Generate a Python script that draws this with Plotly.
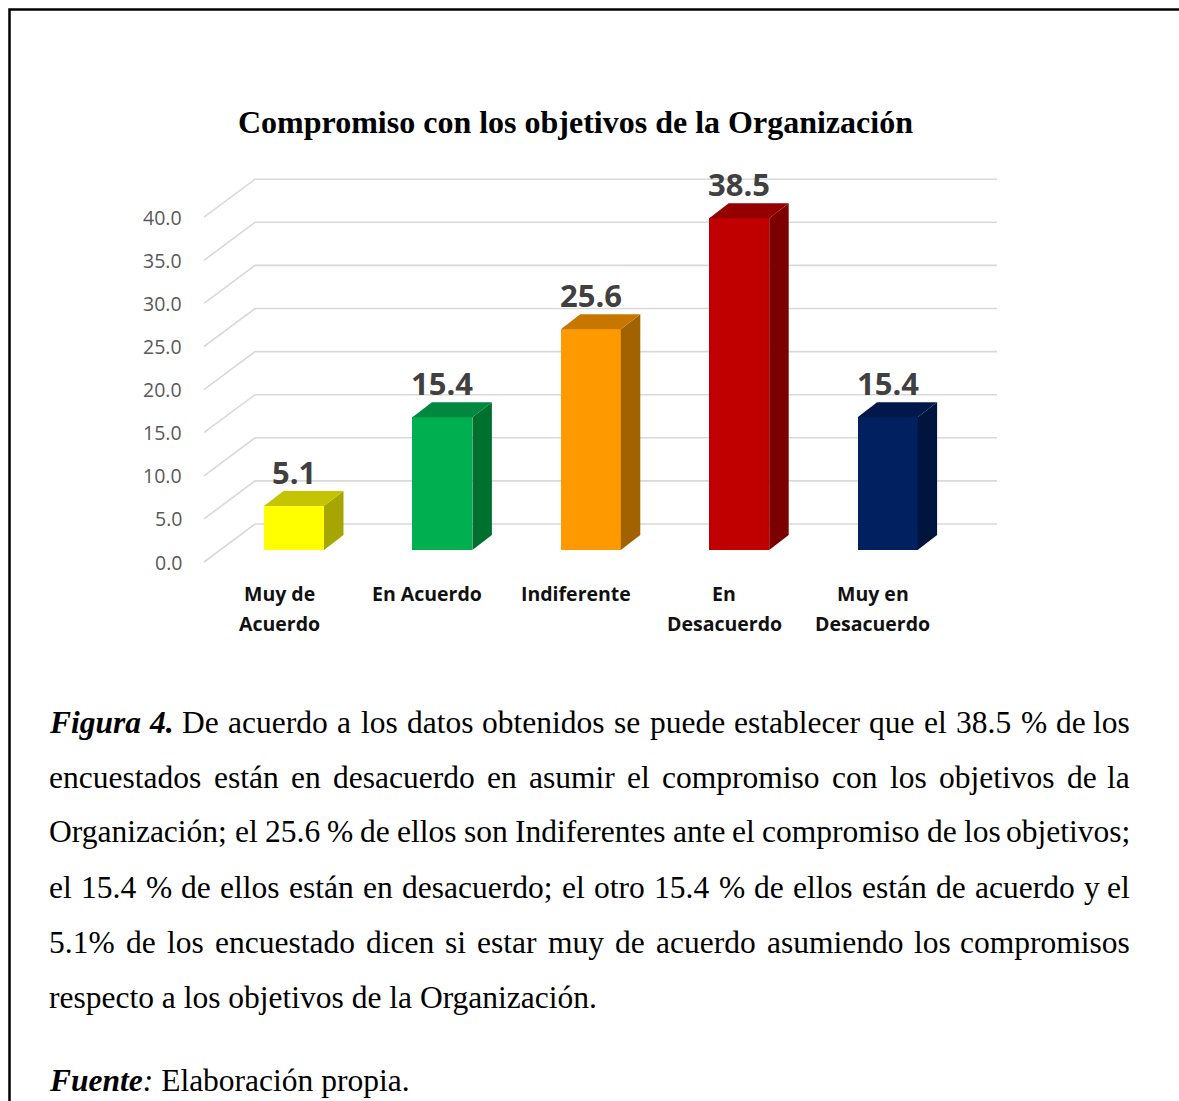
import plotly.graph_objects as go

# ---------------- data ----------------
categories = ["Muy de Acuerdo", "En Acuerdo", "Indiferente", "En Desacuerdo", "Muy en Desacuerdo"]
category_lines = [["Muy de", "Acuerdo"], ["En Acuerdo"], ["Indiferente"], ["En", "Desacuerdo"], ["Muy en", "Desacuerdo"]]
values = [5.1, 15.4, 25.6, 38.5, 15.4]
y_ticks = [0, 5, 10, 15, 20, 25, 30, 35, 40]
title_text = "Compromiso con los objetivos de la Organización"

# ---------------- style ----------------
front_colors = ["#FFFF00", "#00B050", "#FF9900", "#C00000", "#002060"]
top_colors = ["#C4C400", "#00883E", "#C77700", "#940000", "#00194A"]
side_colors = ["#A6A600", "#00702F", "#A36200", "#7D0000", "#00153E"]

W, H = 1179, 1101
CAT_PX = 148.4      # px between categories
X0_PX = 294         # px of first category centre (front face)
BASE_PX = 550       # px of value 0 on the bars' front plane
UNIT_PX = 8.62      # px per value unit


def xd(px):
    return (px - X0_PX) / CAT_PX


def up(px):
    return px / UNIT_PX


BAR_W = 60 / CAT_PX
DX = 19.5 / CAT_PX
DY = up(15)

fig = go.Figure()

# back-wall gridlines with floor diagonal (as shapes below the traces)
shapes = []
for v in y_ticks:
    p = (f"M {xd(204)},{v - up(12)} L {xd(255)},{v + up(26)} L {xd(997)},{v + up(26)}")
    shapes.append(dict(type="path", xref="x", yref="y", path=p, layer="below",
                       line=dict(color="#D9D9D9", width=1.6)))

# front faces
fig.add_trace(go.Bar(x=list(range(len(values))), y=values, width=BAR_W,
                     marker=dict(color=front_colors, line=dict(width=0)),
                     hoverinfo="skip", showlegend=False))

# side and top faces
for i, v in enumerate(values):
    xl, xr = i - BAR_W / 2, i + BAR_W / 2
    fig.add_trace(go.Scatter(x=[xr, xr + DX, xr + DX, xr, xr], y=[0, DY, v + DY, v, 0],
                             mode="lines", fill="toself", fillcolor=side_colors[i],
                             line=dict(width=0), hoverinfo="skip", showlegend=False))
    fig.add_trace(go.Scatter(x=[xl, xl + DX, xr + DX, xr, xl], y=[v, v + DY, v + DY, v, v],
                             mode="lines", fill="toself", fillcolor=top_colors[i],
                             line=dict(width=0), hoverinfo="skip", showlegend=False))

annotations = []
# data labels
for i, v in enumerate(values):
    annotations.append(dict(x=i, y=v + DY, xref="x", yref="y", text=f"{v:.1f}", showarrow=False,
                            xanchor="center", yanchor="bottom", yshift=-4,
                            font=dict(family="Open Sans", size=31, color="#404040", weight=700)))
# tick labels
for v in y_ticks:
    annotations.append(dict(x=xd(184), y=v - up(12), xref="x", yref="y", text=f"{v:.1f}", showarrow=False,
                            xanchor="right", yanchor="middle",
                            font=dict(family="Open Sans", size=19.5, color="#595959")))
# category labels
for i, lines in enumerate(category_lines):
    for k, ln in enumerate(lines):
        annotations.append(dict(x=i - 15 / CAT_PX, y=1 - (593 + 30 * k) / H, xref="x", yref="paper",
                                text=ln, showarrow=False, xanchor="center", yanchor="middle",
                                font=dict(family="Open Sans", size=19.5, color="#111111", weight=700)))

# title
annotations.append(dict(x=575 / W, y=1 - 122 / H, xref="paper", yref="paper", text=f"<b>{title_text}</b>",
                        showarrow=False, xanchor="center", yanchor="middle",
                        font=dict(family="Liberation Serif", size=32, color="#000000")))

# ---------------- caption (justified) ----------------
TR = {' ': 250, '.': 250, ',': 250, ';': 278, ':': 278, '%': 833,
      'a': 444, 'b': 500, 'c': 444, 'd': 500, 'e': 444, 'f': 333, 'g': 500, 'h': 500, 'i': 278, 'j': 278,
      'k': 500, 'l': 278, 'm': 778, 'n': 500, 'o': 500, 'p': 500, 'q': 500, 'r': 333, 's': 389, 't': 278,
      'u': 500, 'v': 500, 'w': 722, 'x': 500, 'y': 500, 'z': 444,
      'A': 722, 'B': 667, 'C': 667, 'D': 722, 'E': 611, 'F': 556, 'G': 722, 'H': 722, 'I': 333, 'J': 389,
      'K': 722, 'L': 611, 'M': 889, 'N': 722, 'O': 722, 'P': 556, 'Q': 722, 'R': 667, 'S': 556, 'T': 611,
      'U': 722, 'V': 722, 'W': 944, 'X': 722, 'Y': 722, 'Z': 611,
      'á': 444, 'é': 444, 'í': 278, 'ó': 500, 'ú': 500, 'ñ': 500}
TBI = {'F': 667, 'i': 278, 'g': 500, 'u': 556, 'r': 389, 'a': 500, '4': 500, '.': 250,
       'e': 444, 'n': 556, 't': 278, ' ': 250}
for d in "0123456789":
    TR[d] = 500

CAP_SIZE = 31.5
LEFT, RIGHT = 48, 1131


def wwidth(word, style):
    tbl = TBI if style == "bi" else TR
    return sum(tbl.get(c, 500) for c in word) * CAP_SIZE / 1000


def fmt(word, style):
    if style == "bi":
        return f"<b><i>{word}</i></b>"
    if style == "i":
        return f"<i>{word}</i>"
    return word


caption_lines = [
    ([("Figura", "bi"), ("4.", "bi")] + [(w, "r") for w in "De acuerdo a los datos obtenidos se puede establecer que el 38.5 % de los".split()], True, 722),
    ([(w, "r") for w in "encuestados están en desacuerdo en asumir el compromiso con los objetivos de la".split()], True, 777),
    ([(w, "r") for w in "Organización; el 25.6 % de ellos son Indiferentes ante el compromiso de los objetivos;".split()], True, 832),
    ([(w, "r") for w in "el 15.4 % de ellos están en desacuerdo; el otro 15.4 % de ellos están de acuerdo y el".split()], True, 887),
    ([(w, "r") for w in "5.1% de los encuestado dicen si estar muy de acuerdo asumiendo los compromisos".split()], True, 942),
    ([(w, "r") for w in "respecto a los objetivos de la Organización.".split()], False, 997),
]

cap_font = dict(family="Liberation Serif", size=CAP_SIZE, color="#000000")
for words, justify, ypx in caption_lines:
    yp = 1 - ypx / H
    if justify:
        widths = [wwidth(w, s) for w, s in words]
        gap = (RIGHT - LEFT - sum(widths)) / (len(words) - 1)
        xcur = LEFT
        for j, ((w, s), wd) in enumerate(zip(words, widths)):
            if j == len(words) - 1:
                annotations.append(dict(x=RIGHT / W, y=yp, xref="paper", yref="paper", text=fmt(w, s),
                                        showarrow=False, xanchor="right", yanchor="middle", font=cap_font,
                                        borderpad=0))
            else:
                annotations.append(dict(x=xcur / W, y=yp, xref="paper", yref="paper", text=fmt(w, s),
                                        showarrow=False, xanchor="left", yanchor="middle", font=cap_font,
                                        borderpad=0))
            xcur += wd + gap
    else:
        txt = " ".join(fmt(w, s) for w, s in words)
        annotations.append(dict(x=LEFT / W, y=yp, xref="paper", yref="paper", text=txt,
                                showarrow=False, xanchor="left", yanchor="middle", font=cap_font, borderpad=0))

annotations.append(dict(x=LEFT / W, y=1 - 1080 / H, xref="paper", yref="paper",
                        text="<b><i>Fuente</i></b><i>:</i> Elaboración propia.",
                        showarrow=False, xanchor="left", yanchor="middle", font=cap_font, borderpad=0))

shapes.append(dict(type="rect", xref="paper", yref="paper", x0=9.5 / W, x1=1.2, y0=-0.2, y1=1 - 9.5 / H,
                   line=dict(color="#000000", width=2.5), fillcolor="rgba(0,0,0,0)", layer="above"))

fig.update_layout(
    width=W, height=H, autosize=False,
    margin=dict(l=0, r=0, t=0, b=0, pad=0),
    paper_bgcolor="white", plot_bgcolor="white",
    xaxis=dict(range=[xd(0), xd(W)], visible=False, fixedrange=True),
    yaxis=dict(range=[-(H - BASE_PX) / UNIT_PX, BASE_PX / UNIT_PX], visible=False, fixedrange=True),
    annotations=annotations,
    bargap=0,
    shapes=shapes,
)

fig.write_html("out.html", config={"displayModeBar": False},
               post_script="document.body.style.margin='0';document.body.style.overflow='hidden';")
